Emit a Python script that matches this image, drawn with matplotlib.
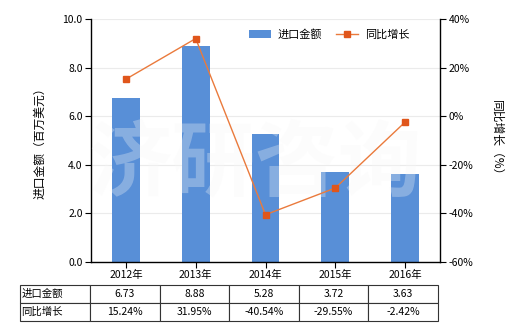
import matplotlib
matplotlib.use("Agg")
import matplotlib.pyplot as plt
from matplotlib.ticker import FuncFormatter

plt.rcParams['font.family'] = ['Noto Sans CJK SC', 'DejaVu Sans']
plt.rcParams['font.size'] = 7.5

years = ['2012年', '2013年', '2014年', '2015年', '2016年']
import_values = [6.73, 8.88, 5.28, 3.72, 3.63]
growth = [15.24, 31.95, -40.54, -29.55, -2.42]
value_labels = ['6.73', '8.88', '5.28', '3.72', '3.63']
growth_labels = ['15.24%', '31.95%', '-40.54%', '-29.55%', '-2.42%']
row_names = ['进口金额', '同比增长']

bar_color = '#588FD7'
line_color = '#E0561B'

fig = plt.figure(figsize=(5.2, 3.3), dpi=100)
ax = fig.add_axes([91/520, 1-262/330, 349/520, 243/330])
x = list(range(len(years)))
ax.bar(x, import_values, width=0.4, color=bar_color, label='进口金额', zorder=2)
ax.set_xlim(-0.5, 4.5)
ax.set_ylim(0, 10)
ax.set_yticks([0, 2, 4, 6, 8, 10])
ax.yaxis.set_major_formatter(FuncFormatter(lambda v, p: f'{v:.1f}'))
ax.grid(axis='y', color='#EBEBEB', linewidth=0.8, zorder=0)
ax.set_xticks(x)
ax.set_xticklabels(years)
ax.set_ylabel('进口金额（百万美元）', fontsize=8.5, labelpad=12)
for s in ['top', 'right']:
    ax.spines[s].set_visible(False)
ax.spines['left'].set_linewidth(1.0)
ax.spines['bottom'].set_linewidth(1.0)
ax.tick_params(direction='out', length=4, width=0.8, pad=2)

# watermark (above bars, below line)
ax.text(0.47, 0.4, '济研咨询', transform=ax.transAxes, fontsize=60, color='#F7F7F7',
        alpha=0.3, ha='center', va='center', fontweight='bold', zorder=3)

ax2 = ax.twinx()
ax2.plot(x, growth, color='#EA7A3C', linewidth=1.0, marker='s', markersize=4.5,
         markerfacecolor=line_color, markeredgecolor=line_color, label='同比增长', zorder=3)
ax2.set_ylim(-60, 40)
ax2.set_yticks([-60, -40, -20, 0, 20, 40])
ax2.yaxis.set_major_formatter(FuncFormatter(lambda v, p: f'{v:.0f}%'))
for s in ['top', 'left', 'bottom']:
    ax2.spines[s].set_visible(False)
ax2.spines['right'].set_linewidth(1.0)
ax2.tick_params(direction='out', length=4, width=0.8, pad=2)
ax2.set_ylabel('同比增长（%）', fontsize=8.5, rotation=-90, labelpad=22)

# legend
h1, l1 = ax.get_legend_handles_labels()
h2, l2 = ax2.get_legend_handles_labels()
ax2.legend(h1 + h2, l1 + l2, loc='upper right', bbox_to_anchor=(0.94, 1.0), ncol=2,
           frameon=False, fontsize=8, handlelength=2.0, handletextpad=0.6,
           columnspacing=1.2)

# table
tab_ax = fig.add_axes([20/520, 1-321/330, 418/520, 36/330])
tab_ax.axis('off')
cell_text = [[row_names[0]] + value_labels, [row_names[1]] + growth_labels]
tbl = tab_ax.table(cellText=cell_text, bbox=[0, 0, 1, 1], cellLoc='center')
tbl.auto_set_font_size(False)
tbl.set_fontsize(7.5)
colw = [70/418] + [69.6/418] * 5
for (r, c), cell in tbl.get_celld().items():
    cell.set_width(colw[c])
    cell.set_linewidth(0.8)
    cell.set_edgecolor('#333333')
    if c == 0:
        cell._loc = 'left'
        cell.get_text().set_ha('left')
        cell.PAD = 0.02

fig.savefig('out.png', dpi=100)
